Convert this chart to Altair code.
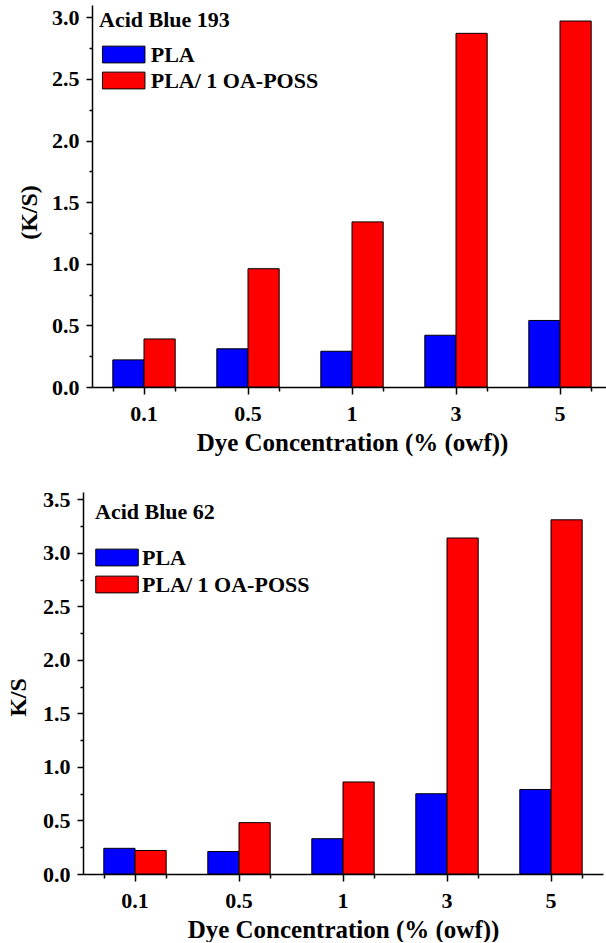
import altair as alt
import pandas as pd

concentrations = ["0.1", "0.5", "1", "3", "5"]
series_names = ["PLA", "PLA/ 1 OA-POSS"]
series_colors = ["#0000FF", "#FF0000"]

ab193_pla = [0.22, 0.31, 0.29, 0.42, 0.54]
ab193_poss = [0.39, 0.96, 1.34, 2.87, 2.97]
ab62_pla = [0.24, 0.21, 0.33, 0.75, 0.79]
ab62_poss = [0.22, 0.48, 0.86, 3.14, 3.31]

y_major_193 = [0.0, 0.5, 1.0, 1.5, 2.0, 2.5, 3.0]
y_minor_193 = [0.25, 0.75, 1.25, 1.75, 2.25, 2.75]
y_major_62 = [0.0, 0.5, 1.0, 1.5, 2.0, 2.5, 3.0, 3.5]
y_minor_62 = [0.25, 0.75, 1.25, 1.75, 2.25, 2.75, 3.25]

FONT = "Liberation Serif"
XTITLE = "Dye Concentration (% (owf))"


def make_df(pla, poss):
    rows = []
    for c, a, b in zip(concentrations, pla, poss):
        rows.append({"conc": c, "series": series_names[0], "ks": a})
        rows.append({"conc": c, "series": series_names[1], "ks": b})
    return pd.DataFrame(rows)


def panel(df, dye, ytitle, ymax, ymajor, yminor, shift, leg):
    xscale = alt.Scale(domain=concentrations, paddingInner=0.4, paddingOuter=0.2,
                       range=[shift, shift + 520])
    yscale = alt.Scale(domain=[0, ymax], nice=False, zero=True)
    bars = alt.Chart(df).mark_bar(stroke="black", strokeWidth=1).encode(
        x=alt.X("conc:N", scale=xscale, sort=concentrations,
                axis=alt.Axis(title=XTITLE, labelAngle=0, tickSize=7, labelPadding=9,
                              titlePadding=6)),
        xOffset=alt.XOffset("series:N", sort=series_names,
                            scale=alt.Scale(paddingInner=0, paddingOuter=0)),
        y=alt.Y("ks:Q", scale=yscale,
                axis=alt.Axis(values=ymajor, format=".1f", title=ytitle, tickSize=6,
                              labelPadding=7, offset=-shift, titleX=leg["tx"],
                              titleY=leg["ty"], titleBaseline="alphabetic")),
        fill=alt.Fill("series:N", scale=alt.Scale(domain=series_names, range=series_colors),
                      legend=alt.Legend(
                          title=dye, orient="none", legendX=leg["lx"], legendY=leg["ly"],
                          direction="vertical", padding=0, titleLimit=0, labelLimit=0,
                          titleFont=FONT, titleFontSize=22, titleFontWeight="bold",
                          titleColor="black", titlePadding=leg["tp"],
                          labelFont=FONT, labelFontSize=22, labelFontWeight="bold",
                          labelColor="black", labelOffset=leg["lo"],
                          symbolType="M-1.7,-0.67H1.7V0.67H-1.7Z", symbolSize=625,
                          symbolStrokeColor="black", symbolStrokeWidth=1,
                          symbolOffset=leg["so"], rowPadding=leg["rp"],
                          labelExpr=leg["lexpr"])),
    )
    minor = alt.Chart(df).mark_bar(opacity=0).encode(
        x=alt.X("conc:N", scale=xscale, sort=concentrations,
                axis=alt.Axis(title=None, labels=False, domain=False, tickBand="extent",
                              tickSize=4, orient="bottom")),
        y=alt.Y("ks:Q", scale=yscale,
                axis=alt.Axis(values=yminor, labels=False, domain=False, tickSize=3,
                              title=None, orient="left", offset=-shift)),
    )
    return alt.layer(bars, minor).resolve_axis(x="independent", y="independent").properties(
        width=523, height=382)


top = panel(make_df(ab193_pla, ab193_poss), "Acid Blue 193", "(K/S)", 3.1,
            y_major_193, y_minor_193, 9,
            {"lx": 16, "ly": 4.5, "tp": 10, "rp": 2, "tx": -56, "ty": 207,
             "so": 11.7, "lo": 14,
             "lexpr": "indexof(datum.label, '/') > 0 ? '\u2002' + datum.label : datum.label"})
bottom = panel(make_df(ab62_pla, ab62_poss), "Acid Blue 62", "K/S", 3.57,
               y_major_62, y_minor_62, 0,
               {"lx": 12, "ly": 9.5, "tp": 21, "rp": 3, "tx": -58, "ty": 205,
                "so": 9, "lo": 12,
                "lexpr": "datum.label"})

chart = alt.vconcat(top, bottom, spacing=-20).resolve_scale(fill="independent").properties(
    padding={"left": 6, "top": -46, "right": 0, "bottom": 0}, background="white"
).configure_view(strokeWidth=0).configure_axis(
    grid=False, domainColor="black", domainWidth=1.5, tickColor="black", tickWidth=1.5,
    labelFont=FONT, labelFontSize=22, labelFontWeight="bold", labelColor="black",
    titleFont=FONT, titleFontSize=24, titleFontWeight="bold", titleColor="black",
).configure_axisX(titleFontSize=25)

chart.save("out.html", embed_options={"renderer": "svg", "actions": False})
